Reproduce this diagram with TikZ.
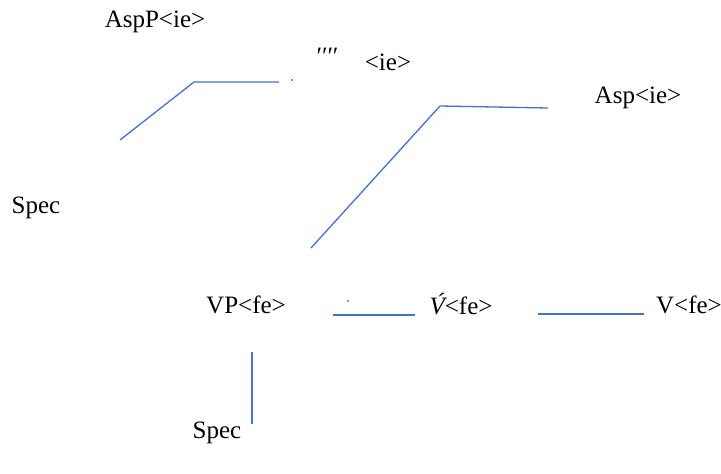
\documentclass[tikz,border=0pt]{standalone}
\usepackage{fontspec}
\setmainfont{Liberation Serif}
\definecolor{lineblue}{HTML}{4472C4}
\begin{document}
\begin{tikzpicture}[x=1pt,y=-1pt,
  lbl/.style={inner sep=0pt,font=\fontsize{25}{30}\selectfont},
  branch/.style={draw=lineblue,line width=1.3pt},
  speck/.style={fill=lineblue!70,inner sep=0pt,minimum size=1.5pt}]
\useasboundingbox (0,0) rectangle (721,474);
% labels
\node[lbl] (aspp) at (155,22) {AspP<ie>};
\node[lbl] (primes) at (326,56) {\itshape\symbol{"2032}\symbol{"2032}\symbol{"2032}\symbol{"2032}};
\node[lbl] (ie) at (388,62) {<ie>};
\node[lbl] (asp) at (638,98) {Asp<ie>};
\node[lbl] (spec1) at (36,208) {Spec};
\node[lbl] (vp) at (246,305) {VP<fe>};
\node[lbl] (vbar) at (461,304) {{\itshape\'V}<fe>};
\node[lbl] (v) at (689,305) {V<fe>};
\node[lbl] (spec2) at (217,433) {Spec};
\node[speck] (d1) at (292,80) {};
\node[speck] (d2) at (348,301) {};
% branch coordinates
\coordinate (a1) at (120,140);
\coordinate (a2) at (194,82);
\coordinate (a3) at (279,82);
\coordinate (b1) at (311,248);
\coordinate (b2) at (440,106);
\coordinate (b3) at (548,108);
\coordinate (c1) at (333,315);
\coordinate (c2) at (415,315);
\coordinate (e1) at (538,314);
\coordinate (e2) at (644,314);
\coordinate (f1) at (252,352);
\coordinate (f2) at (252,424);
\draw[branch] (a1) -- (a2) -- (a3);
\draw[branch] (b1) -- (b2) -- (b3);
\draw[branch] (c1) -- (c2);
\draw[branch] (e1) -- (e2);
\draw[branch] (f1) -- (f2);
\end{tikzpicture}
\end{document}
